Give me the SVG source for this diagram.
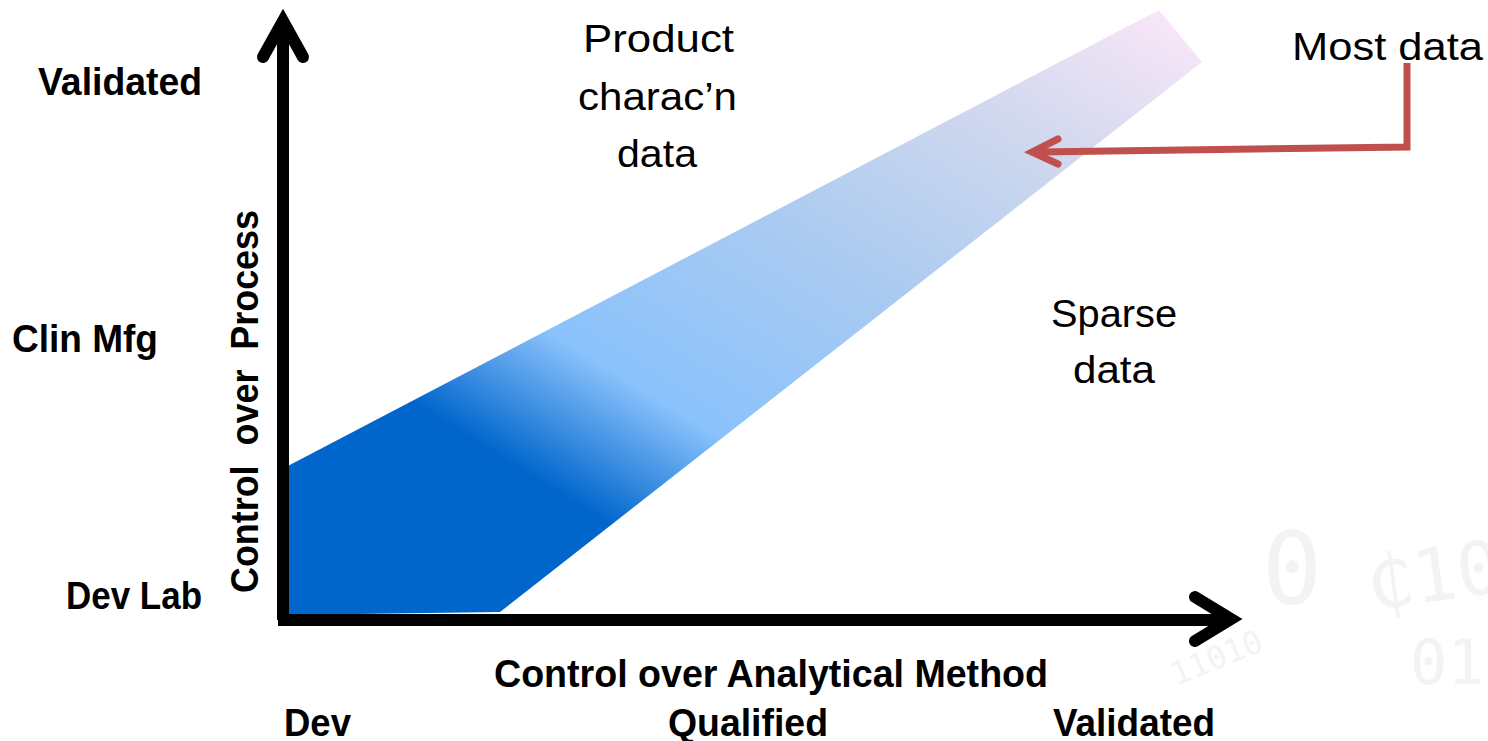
<svg xmlns="http://www.w3.org/2000/svg" width="1488" height="741" viewBox="0 0 1488 741">
  <style>
    .lbl { font-family: "Liberation Sans", Arial, sans-serif; font-size: 38px; fill: #000; }
    .b { font-weight: bold; }
    .axis { fill: none; stroke: #000; stroke-width: 12; }
    .head { fill: none; stroke: #000; stroke-width: 12; stroke-linecap: round; stroke-linejoin: miter; stroke-miterlimit: 10; }
    .call { fill: none; stroke: #C0504D; stroke-width: 7; }
    .callhead { fill: none; stroke: #C0504D; stroke-width: 7; stroke-linecap: round; stroke-linejoin: miter; stroke-miterlimit: 10; }
    .wm { font-family: "DejaVu Sans Mono", monospace; fill: #f1f4f1; }
  </style>
  <defs>
    <linearGradient id="bandFill" gradientUnits="userSpaceOnUse" x1="284" y1="615" x2="798" y2="-214">
      <stop offset="0" stop-color="#0066CC"/>
      <stop offset="0.255" stop-color="#0066CC"/>
      <stop offset="0.39" stop-color="#8AC2FC"/>
      <stop offset="0.6" stop-color="#A9CAF1"/>
      <stop offset="0.82" stop-color="#D0D8EE"/>
      <stop offset="1" stop-color="#F9E6F8"/>
    </linearGradient>
  </defs>

  <!-- faint background numerals -->
  <g id="backdrop">
    <text class="wm" x="1262" y="604" font-size="100">0</text>
    <text class="wm" x="1372" y="610" font-size="74" transform="rotate(-8 1372 610)">₵10</text>
    <text class="wm" x="1176" y="686" font-size="32" transform="rotate(-22 1176 686)">11010</text>
    <text class="wm" x="1410" y="684" font-size="62">01</text>
  </g>

  <!-- shaded band of data density -->
  <g id="band">
    <polygon points="284,468 1159,10 1202,62 500,612 286,615" fill="url(#bandFill)"/>
    <polygon points="282,418 284,468 287,468" fill="#0066CC"/>
  </g>

  <!-- axes -->
  <g id="connectors">
    <line class="axis" x1="283" y1="620" x2="283" y2="20"/>
    <polyline class="head" points="263,57 283,21 303,57"/>
    <line class="axis" x1="278" y1="620" x2="1230" y2="620"/>
    <polyline class="head" points="1195,597 1231,619 1195,641"/>
    <!-- callout from "Most data" -->
    <polyline class="call" points="1407,63 1407,147 1038,152"/>
    <polyline class="callhead" points="1058,139 1032,152 1058,164"/>
  </g>

  <!-- vertical axis labels -->
  <g id="y-validated"><text class="lbl b" x="38" y="95" textLength="164" lengthAdjust="spacingAndGlyphs">Validated</text></g>
  <g id="y-clin"><text class="lbl b" x="12" y="352" textLength="146" lengthAdjust="spacingAndGlyphs">Clin Mfg</text></g>
  <g id="y-devlab"><text class="lbl b" x="66" y="609" textLength="136" lengthAdjust="spacingAndGlyphs">Dev Lab</text></g>
  <g id="y-title"><text class="lbl b" transform="translate(258 593) rotate(-90)" x="0" y="0" textLength="383" lengthAdjust="spacingAndGlyphs" xml:space="preserve">Control  over  Process</text></g>

  <!-- horizontal axis labels -->
  <g id="x-title"><text class="lbl b" x="494" y="687" textLength="554" lengthAdjust="spacingAndGlyphs">Control over Analytical Method</text></g>
  <g id="x-dev"><text class="lbl b" x="284" y="736" textLength="67" lengthAdjust="spacingAndGlyphs">Dev</text></g>
  <g id="x-qualified"><text class="lbl b" x="668" y="736" textLength="160" lengthAdjust="spacingAndGlyphs">Qualified</text></g>
  <g id="x-validated"><text class="lbl b" x="1053" y="736" textLength="162" lengthAdjust="spacingAndGlyphs">Validated</text></g>

  <!-- region notes -->
  <g id="product-note">
    <text class="lbl" x="583" y="52" textLength="151" lengthAdjust="spacingAndGlyphs">Product</text>
    <text class="lbl" x="578" y="110" textLength="159" lengthAdjust="spacingAndGlyphs">charac’n</text>
    <text class="lbl" x="617" y="167" textLength="80" lengthAdjust="spacingAndGlyphs">data</text>
  </g>
  <g id="most-note"><text class="lbl" x="1292" y="60" textLength="191" lengthAdjust="spacingAndGlyphs">Most data</text></g>
  <g id="sparse-note">
    <text class="lbl" x="1051" y="327" textLength="126" lengthAdjust="spacingAndGlyphs">Sparse</text>
    <text class="lbl" x="1073" y="383" textLength="82" lengthAdjust="spacingAndGlyphs">data</text>
  </g>
</svg>
